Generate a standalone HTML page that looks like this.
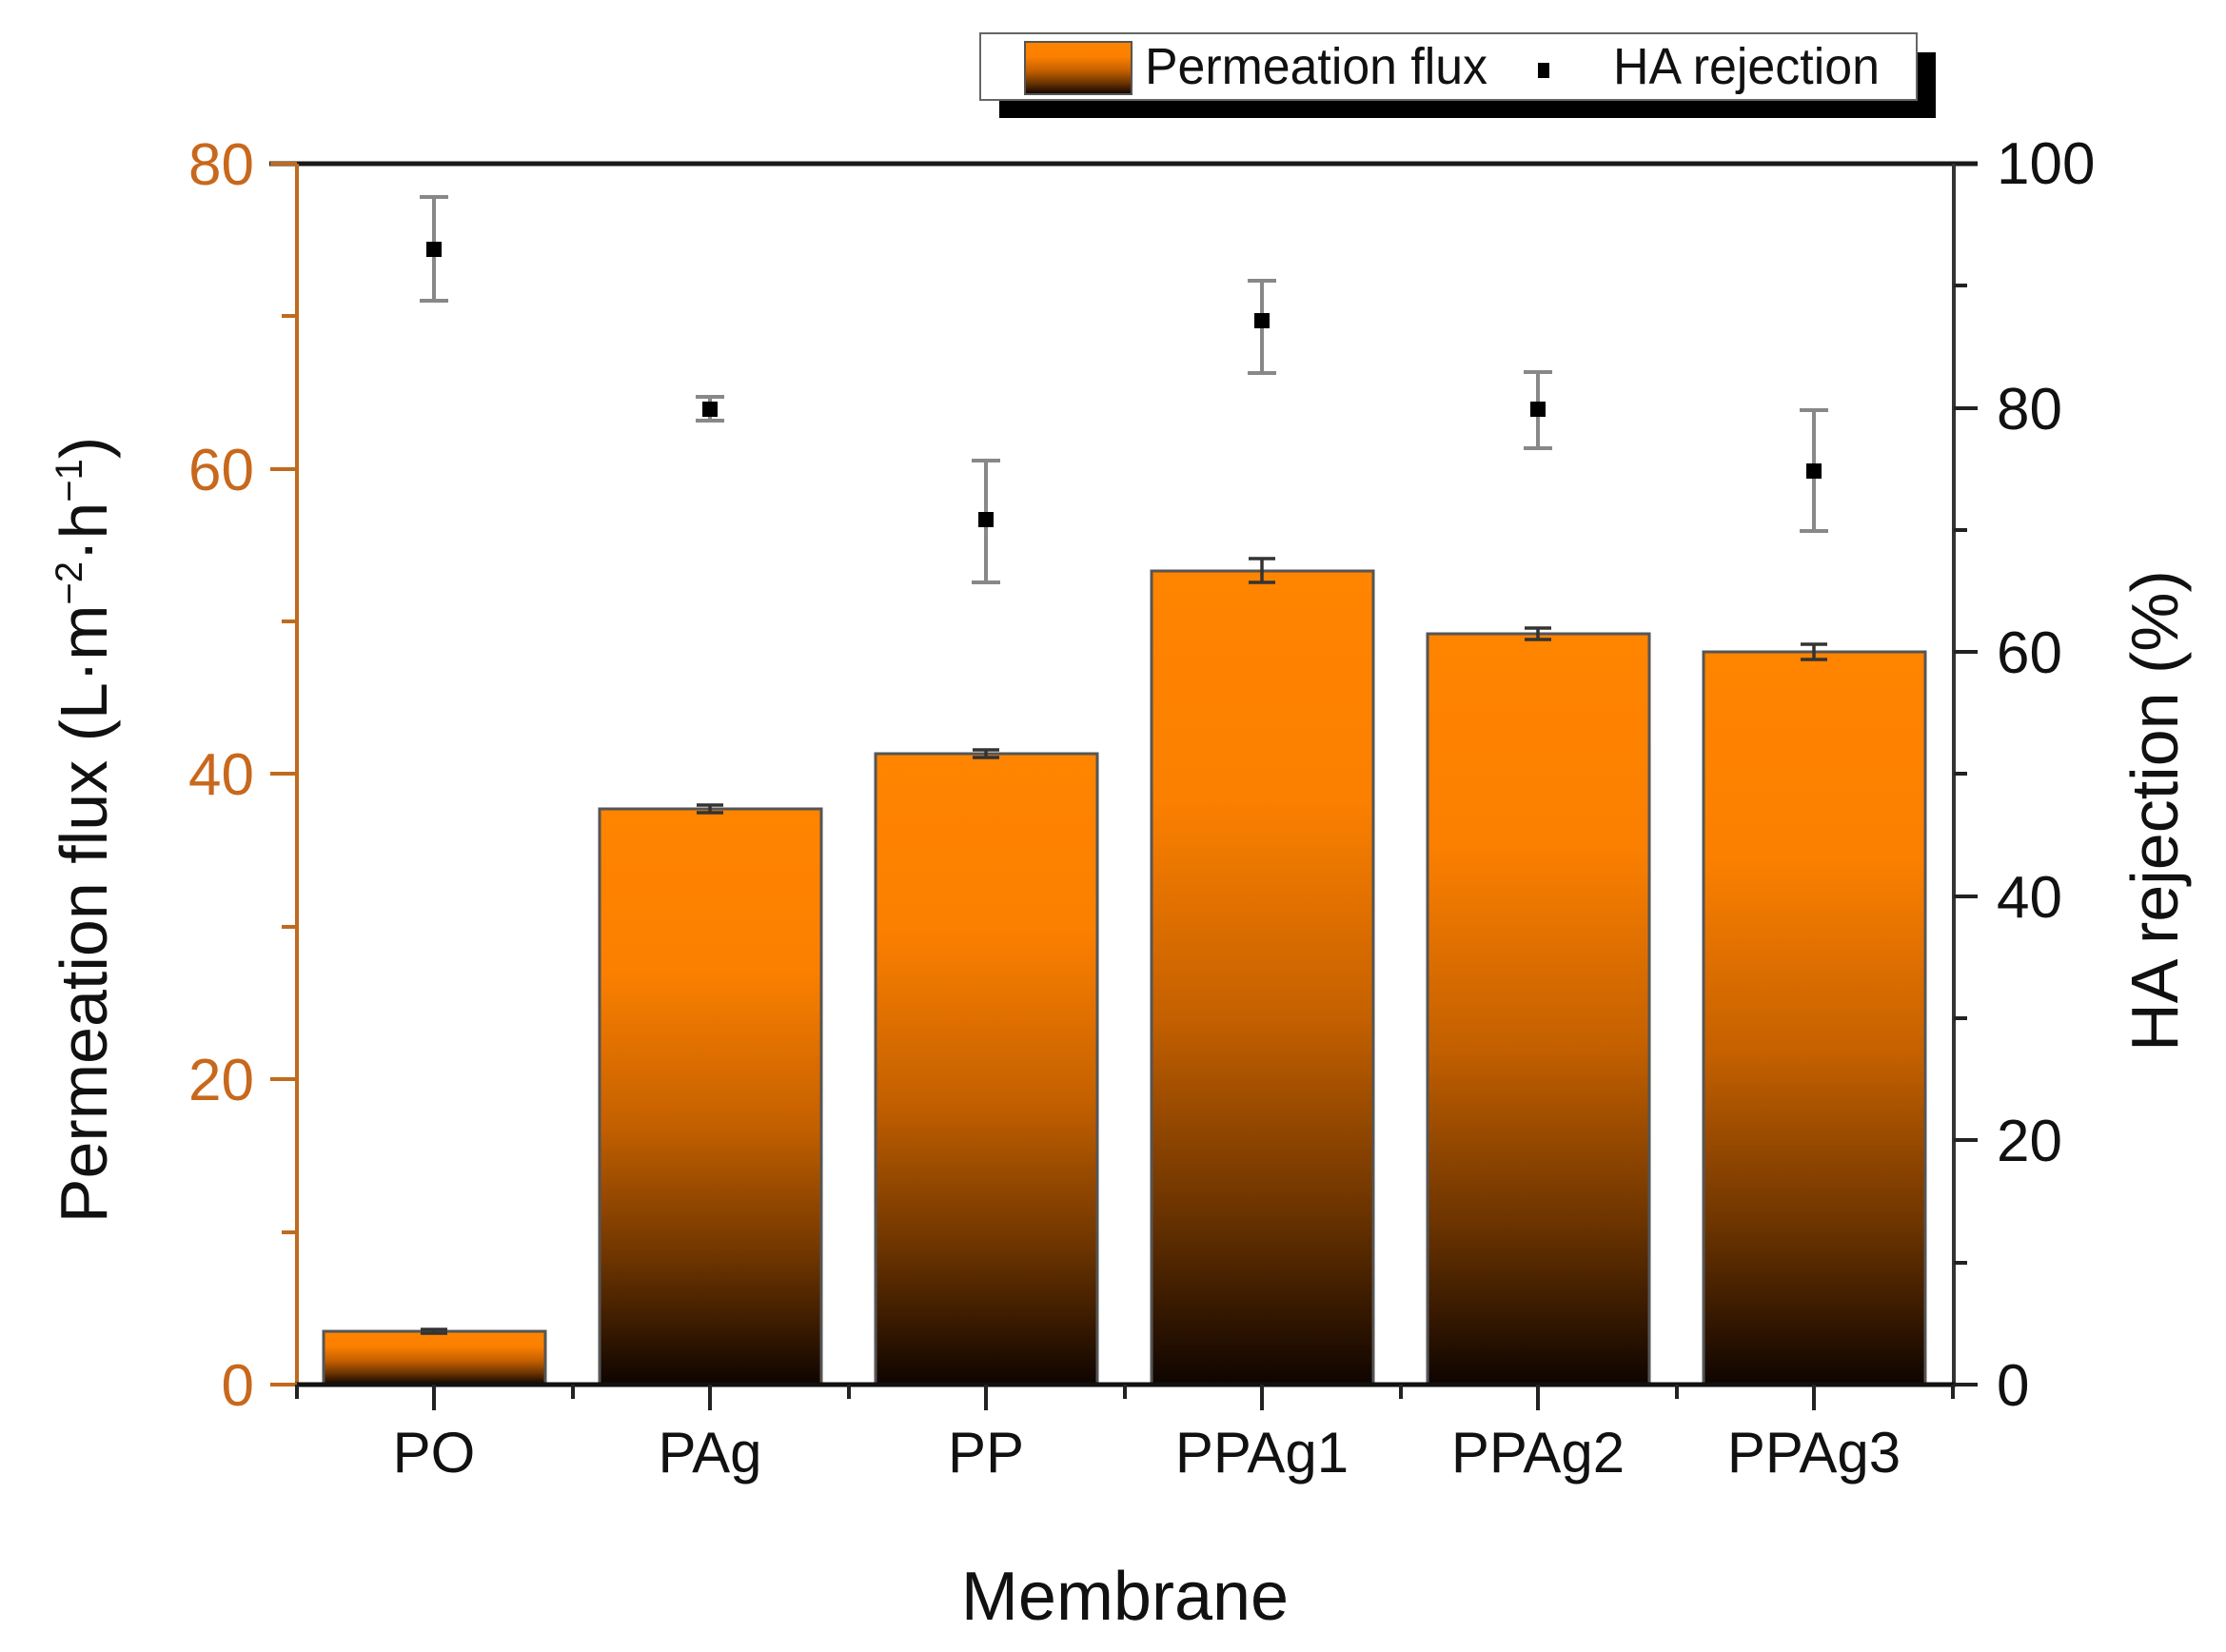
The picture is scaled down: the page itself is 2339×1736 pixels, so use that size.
<!DOCTYPE html>
<html><head><meta charset="utf-8"><style>
html,body{margin:0;padding:0;background:#fff;}
svg{display:block;}
text{font-family:"Liberation Sans",Arial,sans-serif;}
</style></head><body>
<svg width="2339" height="1736" viewBox="0 0 2339 1736" xmlns="http://www.w3.org/2000/svg">
<defs>
<linearGradient id="g" x1="0" y1="0" x2="0" y2="1">
<stop offset="0" stop-color="#ff8400"/>
<stop offset="0.28" stop-color="#fc8000"/>
<stop offset="0.55" stop-color="#c46000"/>
<stop offset="0.78" stop-color="#6e3500"/>
<stop offset="1" stop-color="#0e0400"/>
</linearGradient>
</defs>
<rect width="2339" height="1736" fill="#fff"/>

<rect x="1050" y="55" width="984" height="69" fill="#000"/>
<rect x="1030" y="35" width="984" height="70" fill="#fff" stroke="#666" stroke-width="2"/>
<rect x="1077" y="44" width="112" height="55" fill="url(#g)" stroke="#555" stroke-width="2"/>
<text x="1203" y="88" font-size="54" fill="#111" textLength="360" lengthAdjust="spacingAndGlyphs">Permeation flux</text>
<rect x="1616" y="66" width="12" height="16" fill="#000"/>
<text x="1695" y="88" font-size="54" fill="#111" textLength="280" lengthAdjust="spacingAndGlyphs">HA rejection</text>

<g stroke="#555" stroke-width="3">
<rect x="340" y="1399" width="233" height="56" fill="url(#g)"/>
<rect x="630" y="850" width="233" height="605" fill="url(#g)"/>
<rect x="920" y="792" width="233" height="663" fill="url(#g)"/>
<rect x="1210" y="600" width="233" height="855" fill="url(#g)"/>
<rect x="1500" y="666" width="233" height="789" fill="url(#g)"/>
<rect x="1790" y="685" width="233" height="770" fill="url(#g)"/>
</g>
<g stroke="#333" stroke-width="3.5">
<path d="M442 1397h28M456 1397v4M442 1401h28"/>
<path d="M732 846h28M746 846v8M732 854h28"/>
<path d="M1022 788h28M1036 788v8M1022 796h28"/>
<path d="M1312 587h28M1326 587v25M1312 612h28"/>
<path d="M1602 660h28M1616 660v12M1602 672h28"/>
<path d="M1892 677h28M1906 677v16M1892 693h28"/>
</g>

<g stroke="#888" stroke-width="4">
<path d="M441 207h30M456 207v109M441 316h30"/>
<path d="M731 417h30M746 417v25M731 442h30"/>
<path d="M1021 484h30M1036 484v128M1021 612h30"/>
<path d="M1311 295h30M1326 295v97M1311 392h30"/>
<path d="M1601 391h30M1616 391v80M1601 471h30"/>
<path d="M1891 431h30M1906 431v127M1891 558h30"/>
</g>
<g fill="#000">
<rect x="448" y="254" width="16" height="16"/>
<rect x="738" y="422" width="16" height="16"/>
<rect x="1028" y="538" width="16" height="16"/>
<rect x="1318" y="329" width="16" height="16"/>
<rect x="1608" y="422" width="16" height="16"/>
<rect x="1898" y="487" width="16" height="16"/>
</g>

<line x1="283" y1="172" x2="2078" y2="172" stroke="#1a1a1a" stroke-width="5"/>
<line x1="312" y1="172" x2="312" y2="1455" stroke="#c06a1e" stroke-width="4"/>
<line x1="2053" y1="172" x2="2053" y2="1455" stroke="#333" stroke-width="4"/>
<line x1="310" y1="1455" x2="2055" y2="1455" stroke="#111" stroke-width="5"/>

<g stroke="#c06a1e" stroke-width="4">
<path d="M284 172h28M284 493h28M284 813h28M284 1134h28M284 1455h28"/>
<path d="M296 332h16M296 653h16M296 974h16M296 1295h16"/>
</g>
<g fill="#c8681c" font-size="62" text-anchor="end">
<text x="267" y="194">80</text>
<text x="267" y="515">60</text>
<text x="267" y="835">40</text>
<text x="267" y="1156">20</text>
<text x="267" y="1477">0</text>
</g>

<g stroke="#222" stroke-width="4">
<path d="M2053 429h25M2053 685h25M2053 942h25M2053 1198h25M2053 1455h25"/>
<path d="M2053 300h14M2053 557h14M2053 813h14M2053 1070h14M2053 1327h14"/>
</g>
<g fill="#111" font-size="62">
<text x="2098" y="193">100</text>
<text x="2098" y="451">80</text>
<text x="2098" y="707">60</text>
<text x="2098" y="964">40</text>
<text x="2098" y="1220">20</text>
<text x="2098" y="1477">0</text>
</g>

<g stroke="#222" stroke-width="4">
<path d="M312 1455v15M602 1455v15M892 1455v15M1182 1455v15M1472 1455v15M1762 1455v15M2052 1455v15"/>
<path d="M456 1455v27M746 1455v27M1036 1455v27M1326 1455v27M1616 1455v27M1906 1455v27"/>
</g>
<g fill="#111" font-size="60" text-anchor="middle">
<text x="456" y="1547">PO</text>
<text x="746" y="1547">PAg</text>
<text x="1036" y="1547">PP</text>
<text x="1326" y="1547">PPAg1</text>
<text x="1616" y="1547">PPAg2</text>
<text x="1906" y="1547">PPAg3</text>
</g>

<text x="1182" y="1702" font-size="72" fill="#111" text-anchor="middle">Membrane</text>
<text transform="translate(112,872) rotate(-90)" font-size="70" fill="#111" text-anchor="middle">Permeation flux (L·m<tspan dy="-26" font-size="40">−2</tspan><tspan dy="26">·h</tspan><tspan dy="-26" font-size="40">−1</tspan><tspan dy="26">)</tspan></text>
<text transform="translate(2288,852) rotate(-90)" font-size="70" fill="#111" text-anchor="middle">HA rejection (%)</text>
</svg>
</body></html>
